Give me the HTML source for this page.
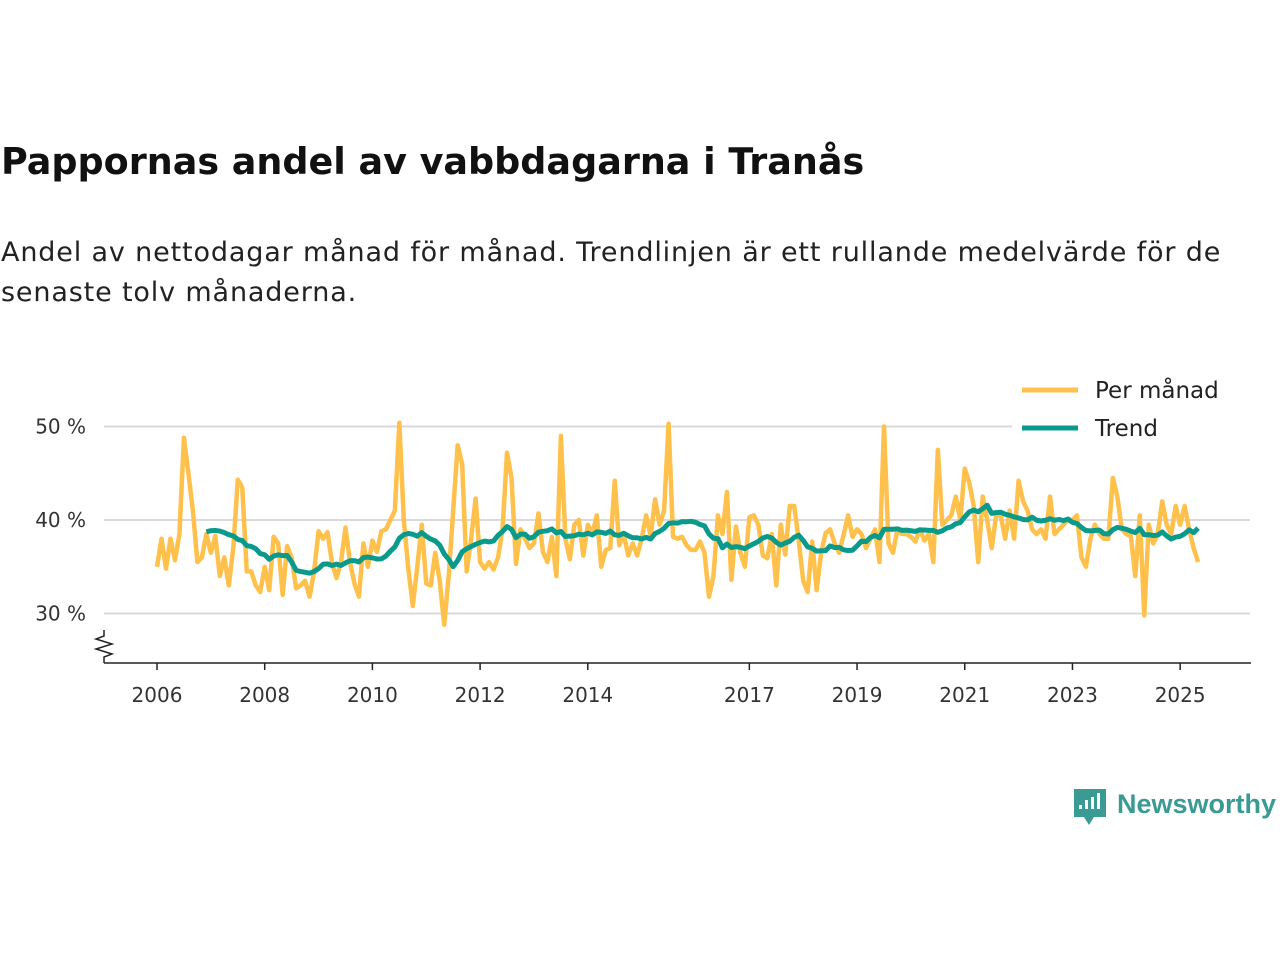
<!DOCTYPE html>
<html><head><meta charset="utf-8"><style>
body{margin:0;width:1280px;height:960px;background:#fff;font-family:"Liberation Sans","DejaVu Sans",sans-serif;overflow:hidden;position:relative}
#title{position:absolute;left:1px;top:140px;font-size:36.5px;font-weight:bold;color:#111;font-family:"DejaVu Sans","Liberation Sans",sans-serif;white-space:nowrap}
#sub{position:absolute;left:1px;top:233px;font-size:27px;line-height:40px;color:#222;font-family:"DejaVu Sans","Liberation Sans",sans-serif;letter-spacing:0.85px;white-space:nowrap}
svg{position:absolute;left:0;top:0}
</style></head><body>
<div id="title">Pappornas andel av vabbdagarna i Tranås</div>
<div id="sub">Andel av nettodagar månad för månad. Trendlinjen är ett rullande medelvärde för de<br>senaste tolv månaderna.</div>
<svg id="chart" width="1280" height="960"></svg>
<script>
const monthly=[
35,38,34.8,38,35.7,38.5,48.8,45,41,35.5,36,38.5,
36.5,38.3,34,36,33,37,44.3,43.5,34.5,34.5,33,32.3,
35,32.5,38.2,37.5,32,37.2,36,32.7,33,33.5,31.8,34.5,
38.8,38,38.7,35.4,33.8,35.5,39.2,35.5,33.2,31.8,37.5,35,
37.8,36.6,38.8,39,40,41,50.4,40,34.8,30.8,35,39.5,
33.2,33,36.5,33.5,28.8,34,41,48,46,34.5,38,42.3,
35.5,34.8,35.5,34.7,36,39,47.2,44.5,35.3,39,38,37,
37.5,40.7,36.6,35.5,38.2,34,49,38,35.8,39.5,40,36.2,
39.5,38.5,40.5,35,36.8,37,44.2,37.3,38.5,36.2,37.5,36.2,
38,40.5,38.3,42.2,39.5,41,50.3,38.2,38,38.2,37.3,36.8,
36.8,37.7,36.5,31.8,34,40.5,38.5,43,33.6,39.3,36.5,35,
40.3,40.5,39.5,36.2,35.9,38.5,33,39.5,36.3,41.5,41.5,37.8,
33.5,32.3,37.7,32.5,36.5,38.6,39,37.5,36.5,38.4,40.5,38.2,
39,38.5,37,38,39,35.5,50,37.5,36.5,39,38.5,38.5,
38.2,37.7,39,37.8,38.5,35.5,47.5,39.5,40,40.5,42.5,40,
45.5,44,41.5,35.5,42.5,40,37,40.5,40.5,38,41,38,
44.2,42,41,39,38.5,39,38,42.5,38.5,39,39.5,40,
40,40.5,36,35,38,39.5,38.5,38,38,44.5,42.5,39,
38.5,38.3,34,40.5,29.8,39.5,37.5,38.5,42,39.5,38.5,41.5,
39.5,41.5,39,37,35.5];
const startYear=2006;
const yTicks=[30,40,50];
const xTickYears=[2006,2008,2010,2012,2014,2017,2019,2021,2023,2025];

const svg=document.getElementById('chart');
const NS='http://www.w3.org/2000/svg';
const X0=157,Y2006=2006,PXYR=53.85;
const xs=i=>X0+(i/12)*PXYR;
const xy=yr=>X0+(yr-Y2006)*PXYR;
const ys=v=>520-(v-40)*9.35;
function mk(t,a){const e=document.createElementNS(NS,t);for(const k in a)e.setAttribute(k,a[k]);svg.appendChild(e);return e;}

yTicks.forEach(v=>{
 const g=mk('line',{x1:104,x2:1250,y1:ys(v),y2:ys(v),stroke:'#d9d9d9','stroke-width':2});
 
 
 const t=mk('text',{x:86,y:ys(v)+7,'text-anchor':'end','font-size':20,fill:'#333','font-family':'DejaVu Sans, Liberation Sans, sans-serif'});
 t.textContent=v+' %';
 
 
});
const ax=mk('line',{x1:104,x2:1251,y1:663,y2:663,stroke:'#222','stroke-width':1.5});


const brk=mk('polyline',{points:'104,630 104,636 96,639 112,644 96,649 112,654 104,657 104,663',fill:'none',stroke:'#222','stroke-width':1.5});


xTickYears.forEach(yr=>{
 const x=xy(yr);
 const l=mk('line',{x1:x,x2:x,y1:663,y2:670,stroke:'#222','stroke-width':1.5});
 
 
 const t=mk('text',{x:x,y:702,'text-anchor':'middle','font-size':20,fill:'#333','font-family':'DejaVu Sans, Liberation Sans, sans-serif'});
 t.textContent=yr;
 
 
});
const mp=mk('polyline',{points:monthly.map((v,i)=>xs(i)+','+ys(v)).join(' '),fill:'none',stroke:'#FFC04C','stroke-width':4.5,'stroke-linejoin':'round'});


const tp=[];
for(let i=11;i<monthly.length;i++){let s=0;for(let j=i-11;j<=i;j++)s+=monthly[j];tp.push(xs(i)+','+ys(s/12));}
const tl=mk('polyline',{points:tp.join(' '),fill:'none',stroke:'#0A9A8C','stroke-width':5,'stroke-linejoin':'round'});


const lb=mk('rect',{x:1012,y:372,width:240,height:74,fill:'#fff'});


[['Per månad','#FFC04C',390],['Trend','#0A9A8C',428]].forEach(([n,c,y])=>{
 const l=mk('line',{x1:1022,x2:1078,y1:y,y2:y,stroke:c,'stroke-width':5});
 
 
 const t=mk('text',{x:1095,y:y+8,'font-size':23,fill:'#222','font-family':'DejaVu Sans, Liberation Sans, sans-serif'});
 t.textContent=n;
 
 
});
const lg=mk('g',{});


const r=document.createElementNS(NS,'path');
r.setAttribute('d','M1074,789 h32 v28 h-12 l-5,8 l-5,-8 h-10 z');r.setAttribute('fill','#3a9a94');lg.appendChild(r);
[[1079,805,4],[1085,800,9],[1091,797,12],[1097,793,16]].forEach(([x,y,h])=>{const b=document.createElementNS(NS,'rect');b.setAttribute('x',x);b.setAttribute('y',y);b.setAttribute('width',3);b.setAttribute('height',h);b.setAttribute('fill','#fff');lg.appendChild(b);});
const lt=document.createElementNS(NS,'text');
lt.setAttribute('x',1117);lt.setAttribute('y',813);lt.setAttribute('font-size',27);lt.setAttribute('font-weight','bold');lt.setAttribute('fill','#3a9a94');lt.textContent='Newsworthy';
lg.appendChild(lt);svg.appendChild(lg);
</script>
</body></html>
